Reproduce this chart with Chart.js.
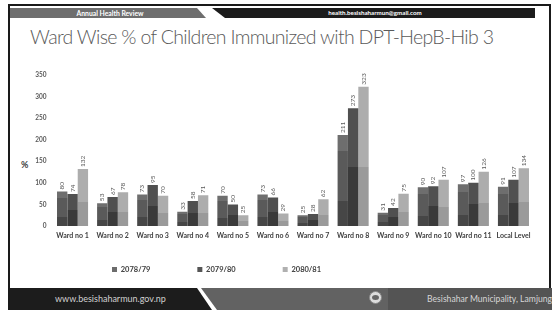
<!DOCTYPE html>
<html>
<head>
<meta charset="utf-8">
<script src="https://cdn.jsdelivr.net/npm/chart.js@4.4.1/dist/chart.umd.min.js"></script>
<style>
  html, body { margin: 0; padding: 0; background: #fff; }
  #wrap { position: relative; width: 555px; height: 310px; overflow: hidden; background: #fff; font-family: Lato, "Open Sans", sans-serif; }
  .abs { position: absolute; }
  #frame { left: 8px; top: 4px; width: 539px; height: 310px; border: 2px solid #1a1a1a; border-bottom: none; box-sizing: content-box; }
  #hgray { left: 10px; top: 8px; width: 200px; height: 10px; background: #6e6e6e; clip-path: polygon(0 0, 187px 0, 196px 100%, 0 100%); }
  #hblack { left: 210px; top: 8px; width: 325px; height: 10px; background: #1c1c1c; clip-path: polygon(2px 0, 100% 0, 100% 100%, 15px 100%); }
  #htext1 { left: 60px; top: 8px; width: 100px; height: 10px; line-height: 10px; text-align: center; color: #fff; font-size: 6.8px; font-weight: bold; }
  #htext2 { left: 300px; top: 8px; width: 150px; height: 10px; line-height: 10px; text-align: center; color: #fff; font-size: 6.2px; font-weight: bold; }
  #title { left: 30px; top: 25px; font-size: 19.5px; letter-spacing: -0.68px; font-weight: 300; color: #5a5a5a; white-space: nowrap; }
  #pct { left: 21px; top: 159px; font-size: 9px; font-weight: bold; color: #404040; }
  #fblack { left: 10px; top: 288px; width: 205px; height: 22px; background: #1c1c1c; clip-path: polygon(0 0, 187px 0, 202px 100%, 0 100%); }
  #fgray { left: 199px; top: 288px; width: 200px; height: 22px; background: #626262; clip-path: polygon(2px 0, 100% 0, 100% 100%, 18px 100%); }
  #fdark { left: 388px; top: 288px; width: 164px; height: 22px; background: #545454; }
  #flogo { left: 369px; top: 291px; width: 13px; height: 13px; border-radius: 50%; background: #ddd; border: 1px solid #888; box-sizing: border-box; }
  #flogo2 { left: 372px; top: 295px; width: 7px; height: 5px; border-radius: 50%; background: #666; }
  #ftext1 { left: 55px; top: 288px; height: 22px; line-height: 22px; color: #d0d0d0; font-size: 9px; white-space: nowrap; }
  #ftext2 { right: 3px; top: 288px; height: 22px; line-height: 22px; color: #d6d6d6; font-size: 8.6px; white-space: nowrap; }
  canvas#c { position: absolute; left: 0; top: 0; }
</style>
</head>
<body>
<div id="wrap">
  <div id="frame" class="abs"></div>
  <div id="hgray" class="abs"></div>
  <div id="hblack" class="abs"></div>
  <div id="htext1" class="abs">Annual Health Review</div>
  <div id="htext2" class="abs">health.besishaharmun@gmail.com</div>
  <div id="title" class="abs">Ward Wise % of Children Immunized with DPT-HepB-Hib 3</div>
  <div id="pct" class="abs">%</div>
  <div id="fblack" class="abs"></div>
  <div id="fgray" class="abs"></div>
  <div id="fdark" class="abs"></div>
  <div id="flogo" class="abs"></div>
  <div id="flogo2" class="abs"></div>
  <div id="ftext1" class="abs">www.besishaharmun.gov.np</div>
  <div id="ftext2" class="abs">Besishahar Municipality, Lamjung</div>
  <canvas id="c" width="555" height="310"></canvas>
</div>
<script>
const categories = ["Ward no 1", "Ward no 2", "Ward no 3", "Ward no 4", "Ward no 5", "Ward no 6", "Ward no 7", "Ward no 8", "Ward no 9", "Ward no 10", "Ward no 11", "Local Level"];
const seriesNames = ["2078/79", "2079/80", "2080/81"];
const values2078 = [80, 53, 73, 33, 70, 73, 25, 211, 31, 90, 97, 91];
const values2079 = [74, 67, 95, 58, 50, 66, 28, 273, 42, 92, 100, 107];
const values2080 = [132, 78, 70, 71, 25, 29, 62, 323, 75, 107, 126, 134];
const yTicks = [0, 50, 100, 150, 200, 250, 300, 350];

// colour bands (bottom -> top) with relative boundaries
const bandStyles = [
  { stops: [0.27, 0.82], colors: ["#464646", "#5a5a5a", "#6e6e6e"], legend: "#6c6c6c" },
  { stops: [0.5], colors: ["#3a3a3a", "#505050"], legend: "#555555" },
  { stops: [0.42], colors: ["#9a9a9a", "#adadad"], legend: "#b0b0b0" }
];

function bandFill(idx) {
  const st = bandStyles[idx];
  return function(ctx) {
    const chart = ctx.chart;
    if (ctx.type !== 'data' || !chart.scales || !chart.scales.y) return st.legend;
    const ys = chart.scales.y;
    const v = ctx.raw;
    const top = ys.getPixelForValue(v);
    const base = ys.getPixelForValue(0);
    if (!isFinite(top) || !isFinite(base) || top === base) return st.legend;
    const g = chart.ctx.createLinearGradient(0, base, 0, top);
    let prev = 0;
    for (let i = 0; i < st.colors.length; i++) {
      const end = i < st.stops.length ? st.stops[i] : 1;
      g.addColorStop(prev, st.colors[i]);
      g.addColorStop(end, st.colors[i]);
      prev = end;
    }
    return g;
  };
}

const allValues = [values2078, values2079, values2080];

const valueLabels = {
  id: 'valueLabels',
  afterDatasetsDraw(chart) {
    const c = chart.ctx;
    c.save();
    c.font = '6.5px Lato, "Open Sans", sans-serif';
    c.fillStyle = '#595959';
    c.textAlign = 'left';
    c.textBaseline = 'middle';
    chart.data.datasets.forEach((ds, di) => {
      const meta = chart.getDatasetMeta(di);
      meta.data.forEach((el, i) => {
        c.save();
        c.translate(el.x, el.y - 2);
        c.rotate(-Math.PI / 2);
        c.fillText(String(ds.data[i]), 0, 0);
        c.restore();
      });
    });
    c.restore();
  }
};

const legendPlacer = {
  id: 'legendPlacer',
  afterLayout(chart) {
    const lg = chart.legend;
    if (!lg) return;
    const pad = lg.options.labels.padding;
    lg.left = 112 - pad;
    lg.right = 540;
    lg.top = 269.5 - 3.75 - pad;
    lg.bottom = 285;
    lg.width = lg.right - lg.left;
    lg.height = lg.bottom - lg.top;
  }
};

new Chart(document.getElementById('c'), {
  type: 'bar',
  data: {
    labels: categories,
    datasets: seriesNames.map((name, i) => ({
      label: name,
      data: allValues[i],
      backgroundColor: bandFill(i),
      borderWidth: 0,
      categoryPercentage: 0.775,
      barPercentage: 1.0
    }))
  },
  options: {
    responsive: false,
    animation: false,
    events: [],
    layout: { padding: { left: 10, top: 75, right: 21.5, bottom: 34 } },
    scales: {
      x: {
        grid: { display: false, drawTicks: false },
        border: { display: false },
        ticks: { color: '#404040', font: { family: 'Lato, "Open Sans", sans-serif', size: 7, weight: 'bold' }, padding: 6, maxRotation: 0, autoSkip: false },
        afterFit(s) { s.height = 30; }
      },
      y: {
        min: 0, max: 350,
        grid: { display: false, drawTicks: false },
        border: { display: false },
        afterBuildTicks(s) { s.ticks = yTicks.map(v => ({ value: v })); },
        ticks: { color: '#595959', font: { family: 'Lato, "Open Sans", sans-serif', size: 6.5, weight: 'bold' }, padding: 6 },
        afterFit(s) { s.width = 42.5; }
      }
    },
    plugins: {
      legend: {
        position: 'bottom',
        align: 'start',
        maxHeight: 20,
        labels: {
          boxWidth: 5, boxHeight: 5, padding: 47,
          color: '#404040',
          font: { family: 'Lato, "Open Sans", sans-serif', size: 7.5, weight: 'bold' },
          generateLabels(chart) {
            return chart.data.datasets.map((ds, i) => ({
              text: ds.label, fillStyle: bandStyles[i].legend, strokeStyle: bandStyles[i].legend,
              lineWidth: 0, hidden: false, datasetIndex: i, fontColor: '#404040'
            }));
          }
        }
      },
      tooltip: { enabled: false }
    }
  },
  plugins: [valueLabels, legendPlacer]
});
</script>
</body>
</html>
